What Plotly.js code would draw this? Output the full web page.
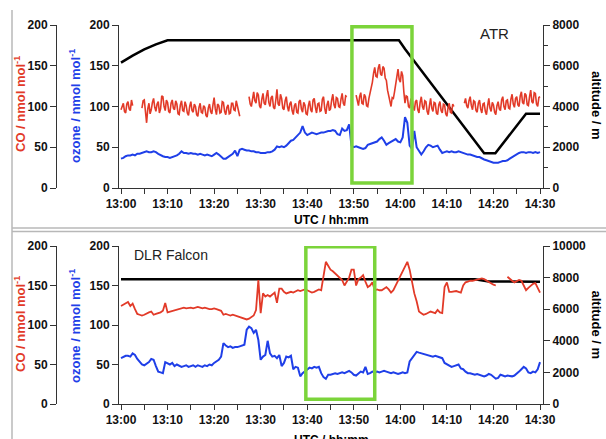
<!DOCTYPE html>
<html><head><meta charset="utf-8">
<script src="https://cdn.plot.ly/plotly-3.0.1.min.js"></script>
<style>html,body{margin:0;padding:0;background:#fff}#chart{width:606px;height:439px}</style>
</head><body><div id="chart"></div>
<script>
// time in minutes after 13:00 UTC
const sampleStep = 0.5;
const coTopStep = 0.25;
const timeTicks = [0,5,10,15,20,25,30,35,40,45,50,55,60,65,70,75,80,85,90];
const timeLabels = ["13:00","","13:10","","13:20","","13:30","","13:40","","13:50","","14:00","","14:10","","14:20","","14:30"];
const leftTicks = [0,50,100,150,200];

// ATR (top panel) - CO sampled every 0.25 min
const coTop = [
 96,102,104,94,92,103,106,97,95,108,101,null,null,null,null,null,null,null,98,107,
 108,93,80,97,104,91,96,105,110,99,94,103,106,92,97,113,112,100,95,108,
 105,94,92,104,108,98,96,107,103,91,90,102,107,95,94,106,101,92,89,100,
 106,95,93,103,100,90,88,99,104,93,92,101,99,89,87,98,103,94,91,102,
 111,97,90,103,101,92,93,106,105,94,90,99,102,91,92,104,104,96,95,107,
 101,93,88,null,null,null,null,null,null,null,112,103,100,110,118,107,104,117,114,101,
 98,109,116,104,102,113,120,105,100,111,113,99,97,108,121,103,101,115,110,98,
 96,107,112,100,94,103,106,95,90,101,104,93,92,106,108,97,93,105,102,91,
 90,101,107,96,93,108,110,99,92,103,104,94,95,109,112,98,91,102,107,95,
 97,108,115,102,98,111,110,100,99,109,116,104,101,113,112,null,null,null,null,null,
 null,null,114,105,101,112,117,104,103,115,112,101,100,110,116,122,130,141,148,137,
 136,147,152,140,138,149,147,135,132,120,112,104,100,111,110,118,128,140,146,133,
 130,143,138,118,104,113,112,100,98,109,110,99,95,106,108,96,92,105,112,100,
 96,107,106,94,90,101,110,98,94,105,104,92,90,102,106,95,92,103,102,91,
 88,99,104,93,92,103,100,null,null,null,null,null,null,null,null,104,110,101,98,107,
 112,101,96,107,106,95,93,104,108,97,92,103,104,94,90,101,110,98,94,105,
 102,93,90,101,106,97,95,108,112,100,96,107,108,98,97,109,115,103,99,110,
 112,102,100,113,118,105,103,116,114,102,101,112,120,106,104,117,116,103,100,111,
 112];
const ozoneTop = [
 36,37,39,40,40,41,40,42,42,43,
 44,45,44,44,45,44,42,40,39,38,
 38,37,38,39,40,42,45,43,43,42,
 43,42,42,41,42,41,40,41,40,39,
 41,43,41,38,36,36,38,40,42,46,
 39,47,48,47,46,46,45,45,44,44,
 43,43,43,44,44,45,47,51,50,51,
 50,52,55,58,59,62,66,68,76,68,
 65,67,68,67,66,67,68,68,69,70,
 70,71,70,66,65,73,70,71,78,52,
 50,51,50,49,48,49,53,54,55,56,
 57,60,62,58,53,55,57,58,60,57,
 56,62,87,80,52,48,70,50,45,41,
 45,50,53,52,50,51,52,47,43,44,
 45,44,45,44,44,45,44,43,42,41,
 41,40,39,38,38,36,35,34,33,32,
 31,31,31,32,33,33,34,36,38,40,
 42,43,44,44,43,44,44,43,44,43,
 44];
const altTopTime = [0,2.5,5,7.5,10,59.7,61,78,80.4,87,90];
const altTop = [6150,6500,6800,7050,7250,7250,6820,1700,1700,3650,3650];
const atrWindow = [49.6, 62.5];

// DLR Falcon (bottom panel)
const coBottom = [
 124,126,128,129,124,127,120,114,113,112,
 113,114,116,117,113,114,115,116,118,128,
 116,117,118,119,120,121,121,122,121,122,
 122,121,122,123,122,121,122,121,120,120,
 121,120,119,118,113,114,113,112,113,112,
 111,110,109,108,107,108,110,112,119,157,
 115,140,136,138,136,139,141,128,146,146,
 142,140,141,142,141,143,144,143,144,145,
 144,143,141,142,144,145,144,163,180,175,
 170,168,165,163,160,157,150,155,160,170,
 170,150,158,160,163,155,148,150,154,144,
 145,144,144,146,148,145,141,144,150,155,
 160,167,172,180,170,155,140,130,117,115,
 113,114,115,117,116,115,119,116,115,148,
 154,142,142,143,143,142,141,150,154,155,
 156,156,157,157,158,159,158,156,154,152,
 151,150,null,null,null,null,161,158,156,154,
 155,157,156,150,144,147,150,152,153,146,
 141];
const ozoneBottom = [
 58,60,61,61,60,64,62,57,53,50,
 49,51,53,57,56,48,41,40,39,53,
 51,50,52,48,50,49,47,48,49,47,
 48,49,47,49,48,47,49,48,50,49,
 52,54,56,60,77,74,72,73,71,72,
 72,73,74,75,94,98,96,90,94,81,
 56,60,62,80,64,60,61,58,62,48,
 52,60,59,61,44,47,46,35,39,41,
 44,46,45,47,46,47,39,34,32,37,
 37,38,39,38,39,40,39,41,42,40,
 37,36,39,41,40,47,38,39,41,40,
 41,40,41,42,41,40,39,40,39,38,
 39,40,39,40,54,58,62,66,65,64,
 64,63,62,61,60,61,60,59,58,52,
 50,48,47,48,49,50,45,44,41,39,
 39,38,37,38,37,36,35,36,38,37,
 34,32,33,37,36,35,36,35,35,36,
 38,41,44,47,45,40,39,41,40,44,
 53];
const altBottomTime = [0,30,60,76,79,90];
const altBottom = [7890,7910,7900,7900,7750,7740];
const falconWindow = [39.7, 54.5];

const tGrid = ozoneTop.map((_, i) => i * sampleStep);
const tGridFine = coTop.map((_, i) => i * coTopStep);

const RED = '#e23a28', BLUE = '#1f3fe8', GREEN = '#7bd43a', AX = '#333';
const FONT = 'Liberation Sans, Arial, Helvetica, sans-serif';
const tickFont = {family: FONT, size: 12, color: '#111', weight: 700};

const traces = [
  {x: altTopTime, y: altTop, xaxis: 'x', yaxis: 'y', mode: 'lines', line: {color: '#000', width: 2.5}},
  {x: tGridFine, y: coTop, xaxis: 'x', yaxis: 'y2', mode: 'lines', line: {color: RED, width: 1.6}, connectgaps: false},
  {x: tGrid, y: ozoneTop, xaxis: 'x', yaxis: 'y3', mode: 'lines', line: {color: BLUE, width: 2}},
  {x: altBottomTime, y: altBottom, xaxis: 'x2', yaxis: 'y4', mode: 'lines', line: {color: '#000', width: 2.5}},
  {x: tGrid, y: coBottom, xaxis: 'x2', yaxis: 'y5', mode: 'lines', line: {color: RED, width: 1.8}, connectgaps: false},
  {x: tGrid, y: ozoneBottom, xaxis: 'x2', yaxis: 'y6', mode: 'lines', line: {color: BLUE, width: 2}}
];

const xDom = [119/606, 543/606];
const topDom = [1 - 188/439, 1 - 25/439];
const botDom = [1 - 404/439, 1 - 246/439];

function xAxis(anchor) {
  return {domain: xDom, range: [-0.43, 90.64], anchor: anchor, tickvals: timeTicks, ticktext: timeLabels,
    ticks: 'outside', ticklen: 5, tickcolor: AX, tickwidth: 1, showline: true, linecolor: AX, linewidth: 1,
    showgrid: false, zeroline: false, tickfont: tickFont, fixedrange: true};
}
function leftAxis(extra) {
  return Object.assign({range: [0, 200], tickvals: leftTicks, ticks: 'outside', ticklen: 6, tickcolor: AX,
    showline: true, linecolor: AX, linewidth: 1, showgrid: false, zeroline: false, tickfont: tickFont, fixedrange: true}, extra);
}
function altAxis(extra) {
  return Object.assign({side: 'right', ticks: 'outside', ticklen: 6, tickcolor: AX, dtick: 2000, tickformat: 'd',
    showline: true, linecolor: AX, linewidth: 1, showgrid: false, zeroline: false, tickfont: tickFont, fixedrange: true}, extra);
}

const ann = (text, x, y, opts) => Object.assign({text: text, x: x, y: y, xref: 'paper', yref: 'paper', showarrow: false,
  xanchor: 'center', yanchor: 'middle',
  font: {family: FONT, size: 13, color: '#000', weight: 700}}, opts);

const layout = {
  width: 606, height: 439, margin: {l: 0, r: 0, t: 0, b: 0},
  paper_bgcolor: '#fff', plot_bgcolor: 'rgba(0,0,0,0)', showlegend: false,
  xaxis: xAxis('y'),
  yaxis: altAxis({domain: topDom, range: [0, 8000], anchor: 'x', minor: {dtick: 1000, ticks: 'outside', ticklen: 4, tickcolor: AX}}),
  yaxis2: leftAxis({overlaying: 'y', anchor: 'free', position: 56/606, side: 'left'}),
  yaxis3: leftAxis({overlaying: 'y', anchor: 'x', side: 'left'}),
  xaxis2: xAxis('y4'),
  yaxis4: altAxis({domain: botDom, range: [0, 10000], anchor: 'x2'}),
  yaxis5: leftAxis({overlaying: 'y4', anchor: 'free', position: 56/606, side: 'left'}),
  yaxis6: leftAxis({overlaying: 'y4', anchor: 'x2', side: 'left'}),
  shapes: [
    {type: 'rect', xref: 'x', yref: 'y3', x0: atrWindow[0], x1: atrWindow[1], y0: 6, y1: 198, line: {color: GREEN, width: 3.5}},
    {type: 'rect', xref: 'x2', yref: 'y6', x0: falconWindow[0], x1: falconWindow[1], y0: 6, y1: 199, line: {color: GREEN, width: 3.5}},
    {type: 'line', xref: 'paper', yref: 'paper', x0: 12/606, x1: 12/606, y0: 0, y1: 1 - 10/439, line: {color: '#b8b8b8', width: 1.5}},
    {type: 'line', xref: 'paper', yref: 'paper', x0: 12/606, x1: 1, y0: 1 - 228/439, y1: 1 - 228/439, line: {color: '#b8b8b8', width: 1.5}},
    {type: 'line', xref: 'paper', yref: 'paper', x0: 12/606, x1: 1, y0: 1 - 231.5/439, y1: 1 - 231.5/439, line: {color: '#b8b8b8', width: 1.5}}
  ],
  annotations: [
    ann('CO / nmol mol<sup>-1</sup>', 20/606, 1 - 104/439, {textangle: -90, font: {family: FONT, size: 13, color: RED, weight: 700}}),
    ann('ozone / nmol mol<sup>-1</sup>', 75/606, 1 - 106/439, {textangle: -90, font: {family: FONT, size: 13, color: BLUE, weight: 700}}),
    ann('altitude / m', 596/606, 1 - 105/439, {textangle: 90}),
    ann('UTC / hh:mm', 331/606, 1 - 219.5/439, {font: {family: FONT, size: 12, color: '#000', weight: 700}}),
    ann('ATR', 495/606, 1 - 33/439, {font: {family: FONT, size: 15, color: '#222', weight: 400}}),
    ann('CO / nmol mol<sup>-1</sup>', 20/606, 1 - 324/439, {textangle: -90, font: {family: FONT, size: 13, color: RED, weight: 700}}),
    ann('ozone / nmol mol<sup>-1</sup>', 75/606, 1 - 326/439, {textangle: -90, font: {family: FONT, size: 13, color: BLUE, weight: 700}}),
    ann('altitude / m', 596/606, 1 - 324.5/439, {textangle: 90}),
    ann('UTC / hh:mm', 331/606, 1 - 431/439, {yanchor: 'top', font: {family: FONT, size: 12, color: '#000', weight: 700}}),
    ann('DLR Falcon', 171/606, 1 - 255/439, {font: {family: FONT, size: 14, color: '#222', weight: 400}})
  ]
};

Plotly.newPlot('chart', traces, layout, {displayModeBar: false, staticPlot: true});
</script>
</body></html>
